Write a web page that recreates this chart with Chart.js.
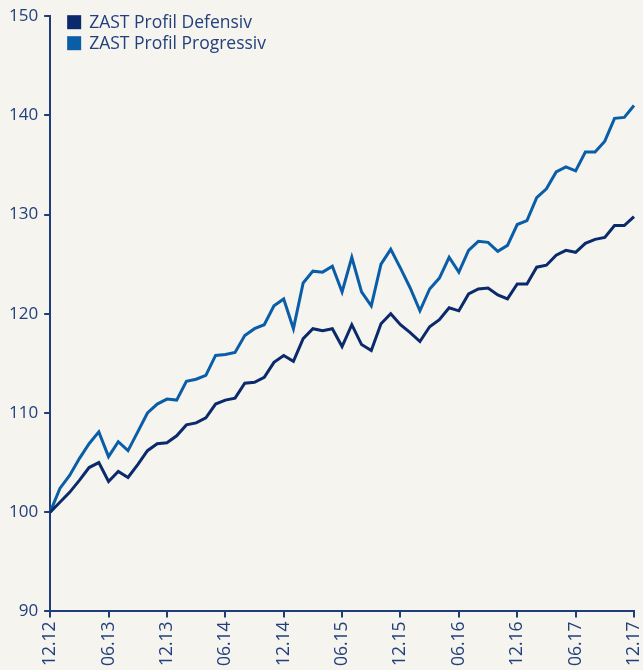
<!DOCTYPE html>
<html>
<head>
<meta charset="utf-8">
<script src="https://cdn.jsdelivr.net/npm/chart.js@4/dist/chart.umd.min.js"></script>
<style>
html,body{margin:0;padding:0;background:#f5f4ee;}
#wrap{position:relative;width:643px;height:670px;}
</style>
</head>
<body>
<div id="wrap"><canvas id="c" width="643" height="670"></canvas></div>
<script>
const months = [
 "12.12","01.13","02.13","03.13","04.13","05.13","06.13","07.13","08.13","09.13","10.13","11.13",
 "12.13","01.14","02.14","03.14","04.14","05.14","06.14","07.14","08.14","09.14","10.14","11.14",
 "12.14","01.15","02.15","03.15","04.15","05.15","06.15","07.15","08.15","09.15","10.15","11.15",
 "12.15","01.16","02.16","03.16","04.16","05.16","06.16","07.16","08.16","09.16","10.16","11.16",
 "12.16","01.17","02.17","03.17","04.17","05.17","06.17","07.17","08.17","09.17","10.17","11.17",
 "12.17"];
const seriesNames = ["ZAST Profil Defensiv","ZAST Profil Progressiv"];
const defensiv = [
 100.0,101.0,102.0,103.2,104.5,105.0,103.1,104.1,103.5,104.8,106.2,106.9,
 107.0,107.7,108.8,109.0,109.5,110.9,111.3,111.5,113.0,113.1,113.6,115.1,
 115.8,115.2,117.5,118.5,118.3,118.5,116.7,118.9,116.9,116.3,119.0,120.0,
 118.9,118.1,117.2,118.7,119.4,120.6,120.3,122.0,122.5,122.6,121.9,121.5,
 123.0,123.0,124.7,124.9,125.9,126.4,126.2,127.1,127.5,127.7,128.9,128.9,
 129.8];
const progressiv = [
 100.0,102.4,103.7,105.4,106.9,108.1,105.6,107.1,106.2,108.1,110.0,110.9,
 111.4,111.3,113.2,113.4,113.8,115.8,115.9,116.1,117.8,118.5,118.9,120.8,
 121.5,118.5,123.1,124.3,124.2,124.8,122.2,125.7,122.2,120.8,125.0,126.5,
 124.6,122.6,120.3,122.5,123.6,125.7,124.2,126.4,127.3,127.2,126.3,126.9,
 129.0,129.4,131.7,132.6,134.3,134.8,134.4,136.3,136.3,137.4,139.7,139.8,
 141.0];
const yMin = 90, yMax = 150, yStep = 10;
const labelEvery = 6;

const colDef = "#0b2a6b";
const colProg = "#0a5ea8";
const axisCol = "#1f3d7a";
const textCol = "#23407d";
const fontFam = "'Open Sans', 'Noto Sans', sans-serif";

const legendPlugin = {
  id: 'inlineLegend',
  afterDraw(chart) {
    const ctx = chart.ctx;
    const ca = chart.chartArea;
    ctx.save();
    ctx.font = "17.5px " + fontFam;
    ctx.textBaseline = "middle";
    chart.data.datasets.forEach((ds, i) => {
      const y = ca.top + 6 + i * 21;
      ctx.fillStyle = ds.borderColor;
      ctx.fillRect(ca.left + 17, y - 7, 14, 14);
      ctx.fillStyle = textCol;
      ctx.fillText(ds.label, ca.left + 39, y + 1);
    });
    ctx.restore();
  }
};

new Chart(document.getElementById('c'), {
  type: 'line',
  data: {
    labels: months,
    datasets: [
      {label: seriesNames[0], data: defensiv, borderColor: colDef, backgroundColor: colDef, borderWidth: 3, pointRadius: 0, tension: 0, fill: false},
      {label: seriesNames[1], data: progressiv, borderColor: colProg, backgroundColor: colProg, borderWidth: 3, pointRadius: 0, tension: 0, fill: false}
    ]
  },
  options: {
    responsive: false,
    animation: false,
    devicePixelRatio: 1,
    layout: {padding: {top: 15, right: 0, left: 3, bottom: 0}},
    plugins: {legend: {display: false}, tooltip: {enabled: false}},
    scales: {
      x: {
        type: 'category',
        offset: false,
        afterFit: (s) => { s.paddingRight = 9; },
        border: {display: true, color: axisCol, width: 2},
        grid: {
          drawOnChartArea: false, drawTicks: true, tickLength: 6,
          color: (c) => (c.index % labelEvery === 0 ? axisCol : 'rgba(0,0,0,0)'),
          lineWidth: 2
        },
        ticks: {
          autoSkip: false, maxRotation: 90, minRotation: 90, padding: 4,
          color: textCol, font: {family: fontFam, size: 17.5},
          callback: function(v, i) { return i % labelEvery === 0 ? months[i] : ''; }
        }
      },
      y: {
        min: yMin, max: yMax,
        border: {display: true, color: axisCol, width: 2},
        grid: {drawOnChartArea: false, drawTicks: true, tickLength: 6, color: axisCol, lineWidth: 2},
        ticks: {stepSize: yStep, padding: 6, color: textCol, font: {family: fontFam, size: 17}}
      }
    }
  },
  plugins: [legendPlugin]
});
</script>
</body>
</html>
